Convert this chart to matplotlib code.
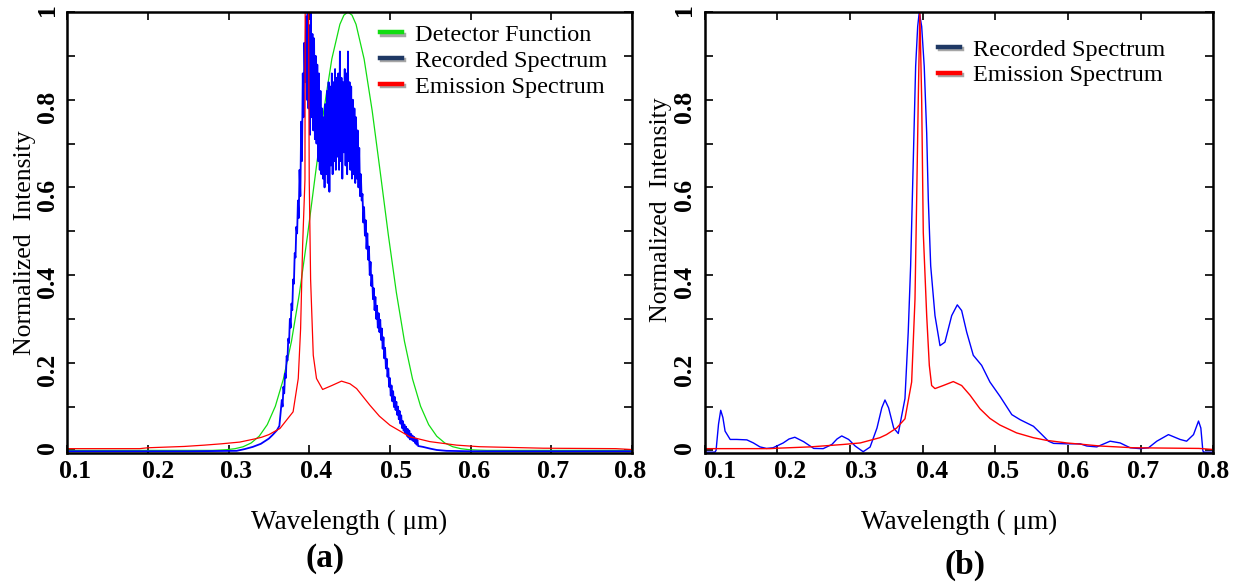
import matplotlib.pyplot as plt
import numpy as np
import matplotlib.patheffects as pe
from matplotlib.lines import Line2D
from matplotlib.transforms import ScaledTranslation

plt.rcParams['font.family'] = ['Liberation Serif', 'DejaVu Serif']

# ------------------------------------------------------------------------------
# data
xtick_vals = [0.1, 0.2, 0.3, 0.4, 0.5, 0.6, 0.7, 0.8]
xtick_text = ['0.1', '0.2', '0.3', '0.4', '0.5', '0.6', '0.7', '0.8']
ytick_vals = [0.0, 0.2, 0.4, 0.6, 0.8, 1.0]
ytick_text = ['0', '0.2', '0.4', '0.6', '0.8', '1']

# (a) detector function
det_x = [0.10, 0.28, 0.288, 0.298, 0.308, 0.318, 0.328, 0.338, 0.348, 0.358,
         0.368, 0.378, 0.388, 0.398, 0.408, 0.418, 0.428, 0.438, 0.443, 0.448,
         0.453, 0.458, 0.468, 0.478, 0.488, 0.498, 0.508, 0.518, 0.528, 0.538,
         0.548, 0.558, 0.568, 0.578, 0.588, 0.598, 0.608, 0.62, 0.80]
det_y = [0.0, 0.0, 0.0007, 0.0017, 0.0039, 0.0083, 0.0169, 0.0324, 0.0588, 0.1007,
         0.163, 0.249, 0.360, 0.492, 0.635, 0.775, 0.893, 0.972, 0.993, 1.0,
         0.993, 0.972, 0.893, 0.775, 0.635, 0.492, 0.360, 0.249, 0.163, 0.1007,
         0.0588, 0.0324, 0.0169, 0.0083, 0.0039, 0.0017, 0.0007, 0.0, 0.0]

# (a) recorded spectrum: smooth foot, noisy band (1 nm steps), smooth tail
rec_a_head_x = [0.10, 0.25, 0.31, 0.32, 0.33, 0.34, 0.35, 0.355, 0.36, 0.363]
rec_a_head_y = [-0.002, -0.002, -0.001, 0.003, 0.008, 0.015, 0.027, 0.036, 0.046, 0.056]
rec_a_band_y = [
    0.115, 0.100, 0.145, 0.130, 0.175, 0.165, 0.215, 0.205, 0.255, 0.245,
    0.300, 0.280, 0.335, 0.320, 0.390, 0.380, 0.450, 0.440, 0.510, 0.495,
    0.570, 0.530, 0.640, 0.580, 0.750, 0.660, 0.860, 0.760, 0.930, 0.840,
    0.990, 0.800, 1.000, 0.780, 0.970, 0.720, 1.000, 0.760, 0.950, 0.730,
    0.940, 0.710, 0.900, 0.700, 0.880, 0.660, 0.860, 0.640, 0.820, 0.630,
    0.780, 0.620, 0.760, 0.600, 0.790, 0.630, 0.820, 0.610, 0.840, 0.590,
    0.830, 0.650, 0.860, 0.630, 0.840, 0.660, 0.870, 0.640, 0.850, 0.670,
    0.860, 0.640, 0.910, 0.660, 0.850, 0.620, 0.840, 0.680, 0.870, 0.650,
    0.860, 0.630, 0.910, 0.660, 0.840, 0.640, 0.830, 0.620, 0.800, 0.630,
    0.780, 0.610, 0.760, 0.620, 0.730, 0.600, 0.690, 0.580, 0.630, 0.570,
    0.585, 0.520, 0.555, 0.490, 0.525, 0.460, 0.495, 0.435, 0.465, 0.400,
    0.430, 0.375, 0.400, 0.345, 0.370, 0.320, 0.350, 0.300, 0.330, 0.280,
    0.313, 0.270, 0.298, 0.252, 0.278, 0.232, 0.258, 0.210, 0.234, 0.187,
    0.209, 0.168, 0.187, 0.145, 0.165, 0.125, 0.148, 0.112, 0.135, 0.099,
    0.122, 0.092, 0.111, 0.081, 0.100, 0.071, 0.090, 0.061, 0.080, 0.051,
    0.067, 0.045, 0.059, 0.039, 0.054, 0.033, 0.049, 0.029, 0.045, 0.025,
    0.038, 0.024, 0.034, 0.021, 0.031, 0.017, 0.027, 0.013, 0.024, 0.010]
rec_a_band_x = np.linspace(0.366, 0.535, len(rec_a_band_y))
rec_a_tail_x = [0.541, 0.55, 0.558, 0.57, 0.60, 0.80]
rec_a_tail_y = [0.008, 0.004, 0.001, -0.001, -0.002, -0.002]

# (a) emission spectrum
emis_a_x = [0.10, 0.19, 0.20, 0.245, 0.27, 0.291, 0.314, 0.332, 0.341, 0.35,
            0.3637, 0.380, 0.3864, 0.3893, 0.3918, 0.3947, 0.3952, 0.3985, 0.400, 0.4017,
            0.405, 0.409, 0.4166, 0.428, 0.440, 0.4505, 0.4587, 0.4752, 0.487, 0.500,
            0.5248, 0.5495, 0.5827, 0.6112, 0.644, 0.69, 0.78, 0.80]
emis_a_y = [0.004, 0.004, 0.006, 0.009, 0.012, 0.015, 0.019, 0.026, 0.030, 0.036,
            0.050, 0.088, 0.164, 0.277, 0.467, 0.618, 1.3, 1.3, 0.618, 0.390,
            0.217, 0.164, 0.139, 0.148, 0.158, 0.152, 0.141, 0.103, 0.078, 0.0575,
            0.031, 0.020, 0.012, 0.0084, 0.007, 0.005, 0.004, 0.002]

# (b) recorded spectrum
rec_b_x = [0.100, 0.114, 0.1156, 0.119, 0.122, 0.125, 0.128, 0.135, 0.144, 0.158,
           0.167, 0.176, 0.185, 0.194, 0.208, 0.216, 0.224, 0.236, 0.250, 0.263,
           0.275, 0.282, 0.2885, 0.298, 0.307, 0.318, 0.3275, 0.337, 0.3436, 0.348,
           0.353, 0.360, 0.3663, 0.3755, 0.380, 0.3833, 0.3856, 0.3879, 0.3902, 0.393,
           0.3952, 0.3985, 0.402, 0.4054, 0.4076, 0.4109, 0.4168, 0.4237, 0.4305, 0.4398,
           0.4475, 0.4535, 0.4604, 0.4695, 0.481, 0.4924, 0.5064, 0.5225, 0.534, 0.5523,
           0.5615, 0.573, 0.580, 0.598, 0.6165, 0.6257, 0.6394, 0.6578, 0.6716, 0.6853,
           0.699, 0.7106, 0.722, 0.738, 0.754, 0.763, 0.7725, 0.7794, 0.7826, 0.7853,
           0.7862, 0.800]
rec_b_y = [-0.004, -0.004, 0.0, 0.06, 0.0915, 0.075, 0.044, 0.025, 0.025, 0.024,
           0.017, 0.008, 0.0045, 0.006, 0.017, 0.026, 0.030, 0.020, 0.0045, 0.004,
           0.0136, 0.026, 0.033, 0.025, 0.010, -0.003, 0.0076, 0.051, 0.097, 0.115,
           0.097, 0.051, 0.0386, 0.118, 0.27, 0.421, 0.573, 0.724, 0.876, 0.967,
           1.0, 0.967, 0.876, 0.724, 0.573, 0.421, 0.3075, 0.239, 0.247, 0.3075,
           0.332, 0.319, 0.27, 0.217, 0.194, 0.156, 0.123, 0.0816, 0.070, 0.055,
           0.040, 0.021, 0.016, 0.015, 0.015, 0.010, 0.008, 0.021, 0.017, 0.006,
           0.004, 0.006, 0.021, 0.036, 0.025, 0.021, 0.036, 0.067, 0.051, 0.0,
           -0.004, -0.004]

# (b) emission spectrum
emis_b_x = [0.10, 0.19, 0.20, 0.245, 0.27, 0.291, 0.314, 0.332, 0.341, 0.35,
            0.364, 0.3755, 0.3847, 0.3893, 0.3916, 0.3938, 0.396, 0.3985, 0.4007, 0.4054,
            0.409, 0.4122, 0.4168, 0.4282, 0.442, 0.4535, 0.465, 0.4787, 0.4924, 0.506,
            0.529, 0.552, 0.57, 0.598, 0.621, 0.644, 0.69, 0.78, 0.80]
emis_b_y = [0.004, 0.004, 0.005, 0.008, 0.011, 0.0136, 0.017, 0.025, 0.029, 0.036,
            0.051, 0.072, 0.156, 0.345, 0.573, 0.8, 1.0, 0.8, 0.497, 0.3075,
            0.194, 0.148, 0.141, 0.148, 0.157, 0.148, 0.126, 0.095, 0.073, 0.058,
            0.040, 0.029, 0.023, 0.017, 0.0136, 0.010, 0.006, 0.0045, 0.002]

# ------------------------------------------------------------------------------
GREEN = '#11dd11'
BLUE = '#0000ff'
RED = '#ff0000'
NAVY = '#1f3864'

fig = plt.figure(figsize=(12.37, 5.82), dpi=100)
axA = fig.add_axes([0.0543, 0.2216, 0.4566, 0.7577])
axB = fig.add_axes([0.5697, 0.2216, 0.4113, 0.7577])

axA.plot(det_x, det_y, color=GREEN, lw=0.9)
axA.plot(list(rec_a_head_x) + list(rec_a_band_x) + list(rec_a_tail_x),
         list(rec_a_head_y) + list(rec_a_band_y) + list(rec_a_tail_y),
         color=BLUE, lw=1.3)
axA.plot(emis_a_x, emis_a_y, color=RED, lw=0.9)

axB.plot(rec_b_x, rec_b_y, color=BLUE, lw=1.0)
axB.plot(emis_b_x, emis_b_y, color=RED, lw=1.0)


def handle(c):
    return Line2D([], [], color=c, lw=3.2,
                  path_effects=[pe.SimpleLineShadow(offset=(1.5, -1.5), alpha=0.35),
                                pe.Normal()])


leg_kw = dict(loc='upper left', frameon=False, fontsize=17.5, handlelength=0.9,
              handletextpad=0.55, labelspacing=0.16, borderaxespad=0.0)
axA.legend([handle(GREEN), handle(NAVY), handle(RED)],
           ['Detector Function', 'Recorded Spectrum', 'Emission Spectrum'],
           bbox_to_anchor=(0.536, 0.995), **leg_kw)
axB.legend([handle(NAVY), handle(RED)],
           ['Recorded Spectrum', 'Emission Spectrum'],
           bbox_to_anchor=(0.439, 0.962), **leg_kw)

label_shift = {axA: [8, 10, 8, 7, 6, 3, 2, -2], axB: [15, 13, 11, 9, 8, 5, 2, 0]}
ylab_pos = {axA: (-0.056, 0.478), axB: (-0.064, 0.551)}

for ax in (axA, axB):
    ax.set_xlim(0.1, 0.8)
    ax.set_ylim(-0.006, 1.0)
    ax.set_xticks(xtick_vals)
    ax.set_xticklabels(xtick_text)
    ax.set_yticks(ytick_vals)
    ax.set_yticklabels(ytick_text)
    ax.set_yticks([0.1, 0.3, 0.5, 0.7, 0.9], minor=True)
    ax.tick_params(which='both', direction='in', top=True, right=True,
                   length=6, width=1.2)
    ax.tick_params(axis='x', labelsize=18.5, pad=5)
    ax.tick_params(axis='y', labelsize=18.5, pad=6, labelrotation=90)
    for lab in ax.get_xticklabels() + ax.get_yticklabels():
        lab.set_fontweight('bold')
    for lab, dx in zip(ax.get_xticklabels(), label_shift[ax]):
        lab.set_transform(lab.get_transform() +
                          ScaledTranslation(dx / 100, 0, fig.dpi_scale_trans))
    for s in ax.spines.values():
        s.set_linewidth(1.8)
    ax.set_xlabel('Wavelength ( μm)', fontsize=19.5, labelpad=19)
    ax.set_ylabel('Normalized  Intensity', fontsize=18.5)
    ax.yaxis.set_label_coords(*ylab_pos[ax])

fig.text(0.2627, 0.041, '(a)', fontsize=24, fontweight='bold', ha='center', va='center')
fig.text(0.780, 0.029, '(b)', fontsize=24, fontweight='bold', ha='center', va='center')

fig.savefig('out.png', dpi=100)
